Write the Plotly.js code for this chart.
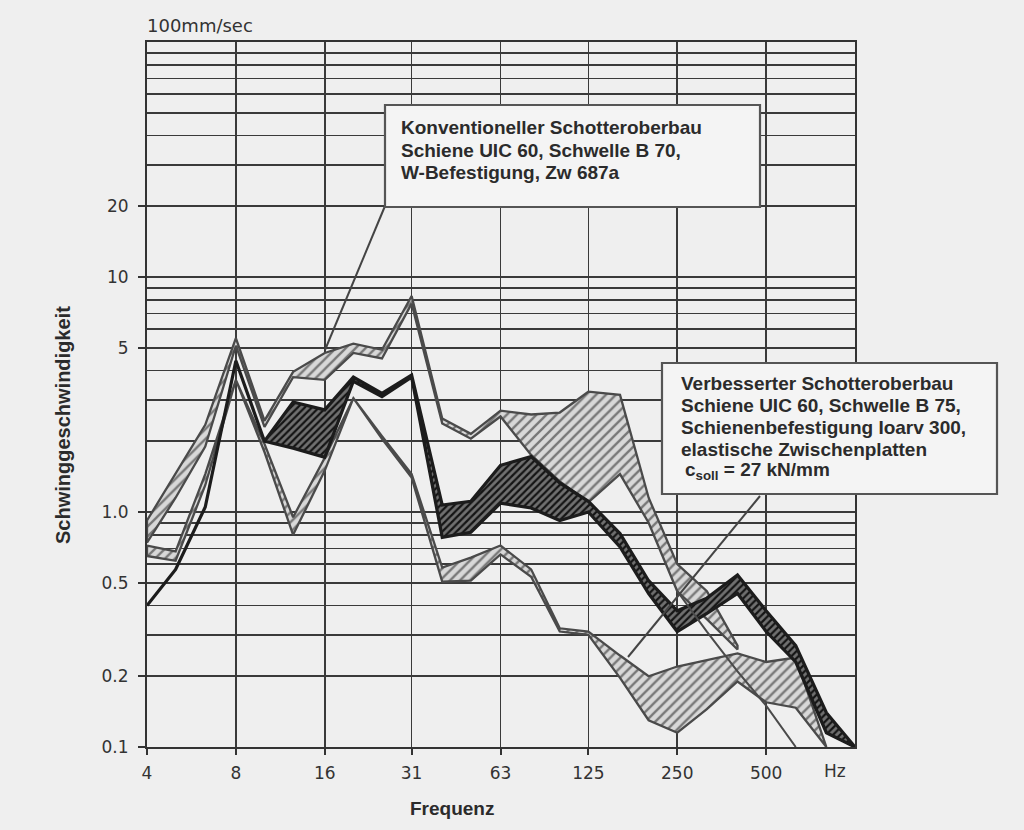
<!DOCTYPE html>
<html><head><meta charset="utf-8">
<script src="https://cdn.plot.ly/plotly-3.0.1.min.js"></script>
<style>html,body{margin:0;padding:0;background:#efefef}</style>
</head><body>
<div id="chart" style="width:1024px;height:830px"></div>
<script>
// 1/3-octave band centre frequencies (Hz)
const freqs = [4,5,6.3,8,10,12.5,16,20,25,31.5,40,50,63,80,100,125,160,200,250,315,400,500,630,800,1000];

// upper light-grey band (Konventioneller Schotteroberbau)
const convHi = [0.92,1.45,2.35,5.5,2.45,3.95,4.75,5.2,4.9,8.3,2.5,2.15,2.7,2.6,2.65,3.25,3.15,1.15,0.6,0.46,0.27,null,null,null,null];
const convLo = [0.74,1.15,1.9,5.1,2.3,3.75,3.65,4.75,4.5,7.7,2.38,2.05,2.55,1.75,1.35,1.1,1.45,0.9,0.46,0.35,0.26,null,null,null,null];

// dark band
const darkHi = [0.4,0.57,1.05,4.4,2.0,2.94,2.72,3.75,3.2,3.83,1.07,1.11,1.58,1.72,1.33,1.11,0.81,0.51,0.38,0.43,0.54,0.38,0.27,0.14,0.1];
const darkLo = [0.4,0.57,1.05,4.4,2.0,1.87,1.71,3.6,3.1,3.75,0.78,0.82,1.09,1.04,0.92,1.0,0.71,0.45,0.31,0.37,0.45,0.31,0.23,0.115,0.1];

// lower grey band (Verbesserter Schotteroberbau)
const lowHi = [0.72,0.68,1.45,3.65,1.95,0.95,1.7,3.05,2.1,1.45,0.58,0.64,0.72,0.57,0.32,0.31,0.245,0.2,0.22,0.234,0.25,0.23,0.24,0.1,null];
const lowLo = [0.65,0.62,1.3,3.65,1.8,0.8,1.5,3.05,2.05,1.4,0.505,0.51,0.66,0.53,0.31,0.30,0.197,0.13,0.115,0.145,0.19,0.155,0.147,0.1,null];

// single thin line
const thinLine = [null,null,null,null,null,null,null,null,null,null,null,null,null,null,null,null,null,null,0.46,0.31,0.21,0.15,0.1,null,null];

const xTickVals = [4,8,16,31.5,63,125,250,500];
const xTickText = ['4','8','16','31','63','125','250','500'];
const yTickVals = [0.1,0.2,0.5,1,5,10,20];
const yTickText = ['0.1','0.2','0.5','1.0','5','10','20'];
const yGridVals = [0.1,0.2,0.3,0.4,0.5,0.6,0.7,0.8,0.9,1,2,3,4,5,6,7,8,9,10,20,30,40,50,60,70,80,90,100];

const box1Lines = ['Konventioneller Schotteroberbau','Schiene UIC 60, Schwelle B 70,','W-Befestigung, Zw 687a'];
const box2Lines = ['Verbesserter Schotteroberbau','Schiene UIC 60, Schwelle B 75,','Schienenbefestigung Ioarv 300,','elastische Zwischenplatten','c<sub>soll</sub> = 27 kN/mm'];

function band(hi, lo) {
  const xs = [], ys = [];
  for (let i = 0; i < freqs.length; i++) if (hi[i] != null) { xs.push(freqs[i]); ys.push(hi[i]); }
  for (let i = freqs.length - 1; i >= 0; i--) if (lo[i] != null) { xs.push(freqs[i]); ys.push(lo[i]); }
  xs.push(xs[0]); ys.push(ys[0]);
  return {xs, ys};
}

const A = band(convHi, convLo), B = band(darkHi, darkLo), C = band(lowHi, lowLo);
const lightPattern = {shape:'/', fgcolor:'#777777', bgcolor:'#d8d8d8', size:7, solidity:0.33};
const traces = [
  {x:A.xs, y:A.ys, type:'scatter', mode:'lines', fill:'toself', fillcolor:'#d8d8d8',
   fillpattern:lightPattern, line:{color:'#4a4a4a', width:2.3}, hoverinfo:'skip'},
  {x:C.xs, y:C.ys, type:'scatter', mode:'lines', fill:'toself', fillcolor:'#d8d8d8',
   fillpattern:lightPattern, line:{color:'#4a4a4a', width:2.3}, hoverinfo:'skip'},
  {x:B.xs, y:B.ys, type:'scatter', mode:'lines', fill:'toself', fillcolor:'#6a6a6a',
   fillpattern:{shape:'/', fgcolor:'#141414', bgcolor:'#707070', size:5, solidity:0.45},
   line:{color:'#1c1c1c', width:3.2}, hoverinfo:'skip'},
  {x:freqs, y:thinLine, type:'scatter', mode:'lines', yaxis:'y2',
   line:{color:'#4a4a4a', width:2}, hoverinfo:'skip', connectgaps:false}
];

const L = 147, R = 855, T = 42, Bt = 747;
const px = v => (v - L) / (R - L);
const py = v => (Bt - v) / (Bt - T);

const tickFont = {family:'DejaVu Sans, sans-serif', size:17, color:'#333333'};
const boldFont = (s) => ({family:'Liberation Sans, Arial, sans-serif', size:s, color:'#2b2b2b'});

const annotations = [
  {text:'100mm/sec', xref:'paper', yref:'paper', x:px(145), y:py(25), xanchor:'left', yanchor:'middle',
   showarrow:false, font:{family:tickFont.family, size:18, color:'#333333'}},
  {text:'Hz', xref:'paper', yref:'paper', x:px(835), y:py(771), xanchor:'center', yanchor:'middle',
   showarrow:false, font:tickFont},
  {text:'<b>Schwinggeschwindigkeit</b>', xref:'paper', yref:'paper', x:px(63), y:py(425), textangle:-90,
   xanchor:'center', yanchor:'middle', showarrow:false, font:boldFont(20)},
  {text:'<b>Frequenz</b>', xref:'paper', yref:'paper', x:px(452), y:py(808),
   xanchor:'center', yanchor:'middle', showarrow:false, font:boldFont(19)}
];
box1Lines.forEach((t, i) => annotations.push({text:'<b>' + t + '</b>', xref:'paper', yref:'paper',
  x:px(399), y:py(128 + 22 * i), xanchor:'left', yanchor:'middle', showarrow:false, font:boldFont(19)}));
box2Lines.forEach((t, i) => annotations.push({text:'<b>' + t + '</b>', xref:'paper', yref:'paper',
  x:px(i === 4 ? 683 : 679), y:py(383 + 22 * i), xanchor:'left', yanchor:'middle', showarrow:false, font:boldFont(19)}));

const shapes = [
  {type:'line', xref:'paper', yref:'paper', x0:px(385), y0:py(206), x1:px(325), y1:py(350), line:{color:'#444', width:2}},
  {type:'line', xref:'paper', yref:'paper', x0:px(760), y0:py(496), x1:px(628), y1:py(657), line:{color:'#444', width:2}},
  {type:'rect', xref:'paper', yref:'paper', x0:px(385), x1:px(760), y0:py(207), y1:py(105), fillcolor:'#f4f4f4', line:{color:'#555', width:2.2}},
  {type:'rect', xref:'paper', yref:'paper', x0:px(662), x1:px(997), y0:py(494), y1:py(363), fillcolor:'#f4f4f4', line:{color:'#555', width:2.2}}
];

const layout = {
  width:1024, height:830,
  margin:{l:L, r:1024 - R, t:T, b:830 - Bt},
  paper_bgcolor:'#efefef', plot_bgcolor:'#efefef',
  showlegend:false,
  xaxis:{type:'log', range:[Math.log10(4), Math.log10(1000)], tickmode:'array', tickvals:xTickVals, ticktext:xTickText,
    ticks:'outside', ticklen:6, tickwidth:2, tickcolor:'#333', tickfont:tickFont, ticklabelstandoff:4,
    showgrid:true, gridcolor:'#3a3a3a', gridwidth:1.6, showline:true, mirror:true, linecolor:'#333', linewidth:2, zeroline:false},
  yaxis:{type:'log', range:[-1, 2], tickmode:'array', tickvals:yGridVals, showticklabels:false, ticks:'',
    showgrid:true, gridcolor:'#3a3a3a', gridwidth:1.7, showline:true, mirror:true, linecolor:'#333', linewidth:2, zeroline:false},
  yaxis2:{type:'log', range:[-1, 2], overlaying:'y', side:'left', anchor:'x', tickmode:'array', tickvals:yTickVals, ticktext:yTickText,
    ticks:'outside', ticklen:8, tickwidth:2, tickcolor:'#333', tickfont:tickFont, ticklabelstandoff:6,
    showgrid:false, showline:false, zeroline:false},
  annotations, shapes
};

Plotly.newPlot('chart', traces, layout, {staticPlot:true, displayModeBar:false});
</script>
</body></html>
